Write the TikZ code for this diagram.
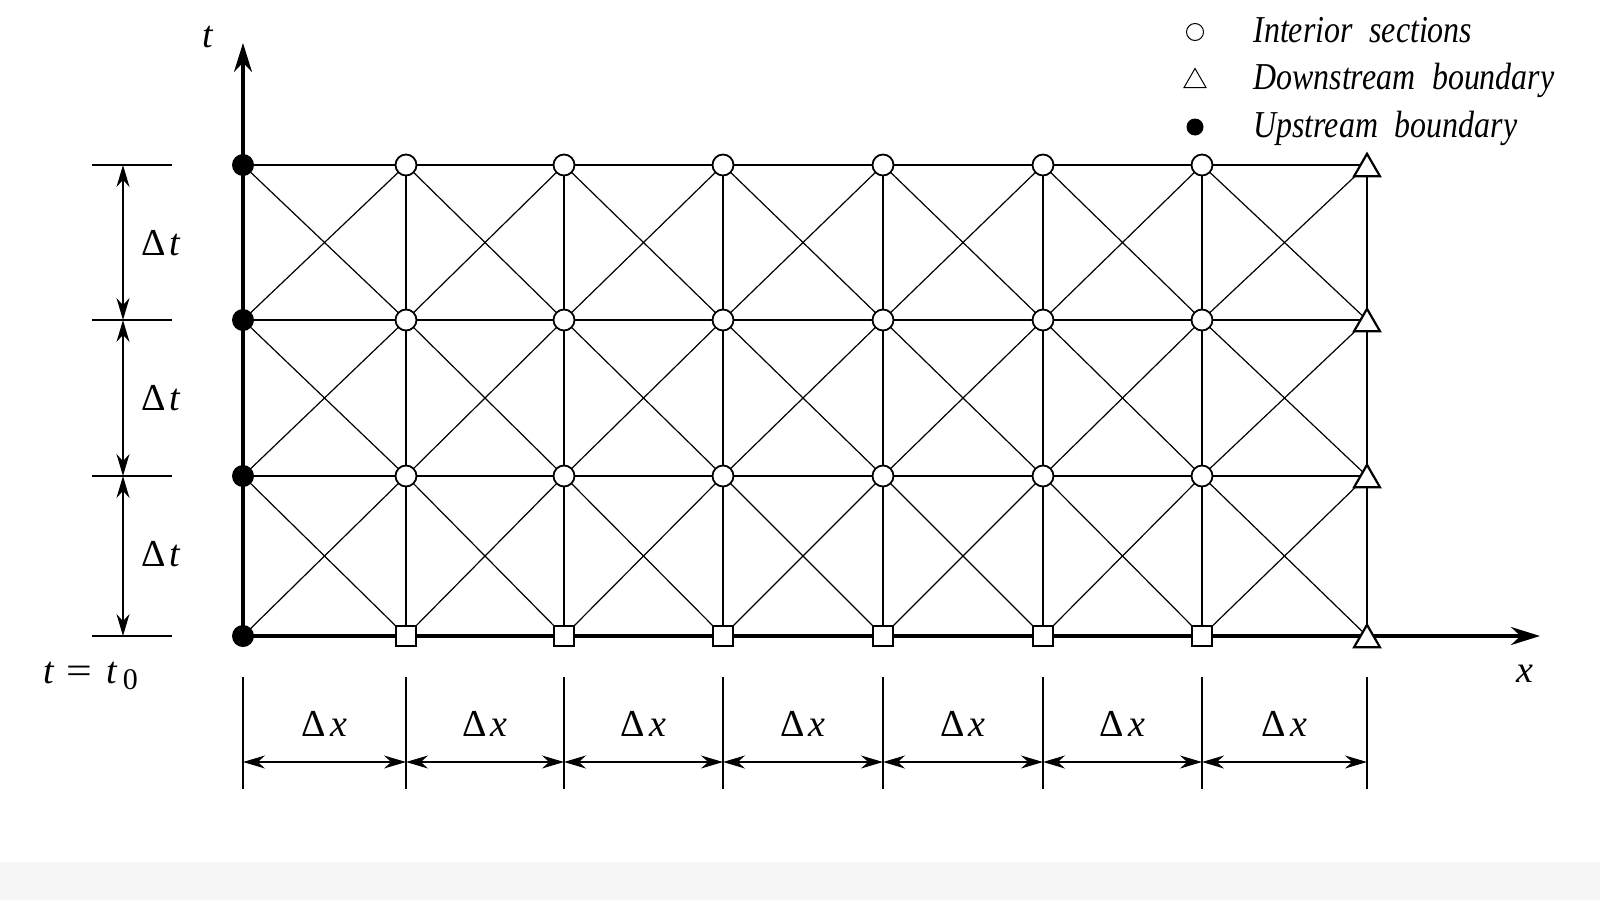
\documentclass[tikz,border=0pt]{standalone}
\usepackage{fontspec}
\usepackage{graphicx}
\setmainfont{Liberation Serif}
\newfontfamily\legfont[FakeStretch=0.84,WordSpace=2.1]{Liberation Serif}
\usetikzlibrary{arrows.meta,shapes.geometric}
\begin{document}
\begin{tikzpicture}[x={(0.5pt,0)},y={(0,-0.5pt)},
  gridline/.style={line width=0.6pt},
  axisline/.style={line width=1.7pt},
  dimline/.style={line width=0.65pt},
  dimarrow/.style={dimline,{Stealth[length=11pt,width=6.5pt]}-{Stealth[length=11pt,width=6.5pt]}},
  axisarrow/.style={axisline,-{Stealth[length=14.5pt,width=9pt]}},
  upnode/.style={circle,fill=black,inner sep=0pt,minimum size=11pt},
  intnode/.style={circle,draw,fill=white,line width=0.9pt,inner sep=0pt,minimum size=10.5pt},
  sqnode/.style={rectangle,draw,fill=white,line width=0.9pt,inner sep=0pt,minimum size=10pt},
  trinode/.style={regular polygon,regular polygon sides=3,draw,fill=white,line width=1.1pt,inner sep=0pt,minimum size=15pt,yshift=-1.9pt},
  lab/.style={font=\fontsize{19pt}{22pt}\selectfont,inner sep=0pt},
  legtext/.style={font=\legfont\itshape\fontsize{19pt}{22pt}\selectfont,inner sep=0pt,anchor=base west},
  legcirc/.style={circle,draw,fill=white,line width=0.5pt,inner sep=0pt,minimum size=8.5pt},
  legdot/.style={circle,fill=black,inner sep=0pt,minimum size=8.5pt},
  legtri/.style={regular polygon,regular polygon sides=3,draw,fill=white,line width=0.5pt,inner sep=0pt,minimum size=12.7pt,yshift=-1.6pt}
]
\useasboundingbox (0,0) rectangle (1600,900);
\fill[black!3] (0,862) rectangle (1600,900);

% grid coordinates
\foreach \x [count=\i from 0] in {243,406,564,723,883,1043,1202,1367} {
  \foreach \y [count=\j from 0] in {636,476,320,165} {
    \coordinate (p-\i-\j) at (\x,\y);
  }
}

% horizontal lines
\foreach \j in {1,2,3} \draw[gridline] (p-0-\j) -- (p-7-\j);
% vertical lines
\foreach \i in {1,...,7} \draw[gridline] (p-\i-0) -- (p-\i-3);
% diagonals
\foreach \i [evaluate=\i as \ii using int(\i+1)] in {0,...,6} {
  \foreach \j [evaluate=\j as \jj using int(\j+1)] in {0,1,2} {
    \draw[gridline] (p-\i-\j) -- (p-\ii-\jj);
    \draw[gridline] (p-\ii-\j) -- (p-\i-\jj);
  }
}

% axes
\coordinate (xend) at (1540,636);
\coordinate (tend) at (243,43);
\draw[axisarrow] (p-0-0) -- (xend);
\draw[axisarrow] (p-0-0) -- (tend);

% markers
\foreach \j in {0,...,3} \node[upnode] (u-\j) at (p-0-\j) {};
\foreach \i in {1,...,6} {
  \foreach \j in {1,2,3} \node[intnode] (c-\i-\j) at (p-\i-\j) {};
  \node[sqnode] (s-\i) at (p-\i-0) {};
}
\foreach \j in {0,...,3} \node[trinode] (d-\j) at (p-7-\j) {};

% Delta t dimensions
\foreach \y [count=\j from 0] in {636,476,320,165} {
  \coordinate (ta-\j) at (92,\y);
  \coordinate (tb-\j) at (172,\y);
  \coordinate (tm-\j) at (123,\y);
  \draw[dimline] (ta-\j) -- (tb-\j);
}
\foreach \j [evaluate=\j as \jj using int(\j+1)] in {0,1,2} \draw[dimarrow] (tm-\j) -- (tm-\jj);
\node[lab,anchor=base] (dt3) at (161,255) {Δ\hspace{2pt}\textit{t}};
\node[lab,anchor=base] (dt2) at (161,410) {Δ\hspace{2pt}\textit{t}};
\node[lab,anchor=base] (dt1) at (161,566) {Δ\hspace{2pt}\textit{t}};

% Delta x dimensions
\foreach \x [count=\i from 0] in {243,406,564,723,883,1043,1202,1367} {
  \coordinate (xa-\i) at (\x,677);
  \coordinate (xb-\i) at (\x,789);
  \coordinate (xm-\i) at (\x,762);
  \draw[dimline] (xa-\i) -- (xb-\i);
}
\foreach \i [evaluate=\i as \ii using int(\i+1)] in {0,...,6} {
  \draw[dimarrow] (xm-\i) -- (xm-\ii);
  \path (xm-\i) -- (xm-\ii) coordinate[pos=0.5] (xc-\i);
  \node[lab,anchor=base] (dx-\i) at ([yshift=13pt]xc-\i) {Δ\hspace{2pt}\textit{x}};
}

% axis labels
\node[lab,anchor=base] (tlab) at (208,47) {\textit{t}};
\node[lab,anchor=base] (xlab) at (1525,682) {\textit{x}};
\node[lab,anchor=base west] (t0lab) at (43,683) {\textit{t}\hspace{6pt}\scalebox{1.2}[1]{=}\hspace{7pt}\textit{t}\hspace{2.5pt}\raisebox{-0.35ex}{\fontsize{15pt}{15pt}\selectfont 0}};

% legend
\node[legcirc] (lc) at (1195,32) {};
\node[legtri] (lt) at (1195,78) {};
\node[legdot] (ld) at (1195,127) {};
\node[legtext] (l1) at (1253,42) {Interior sections};
\node[legtext] (l2) at (1253,89) {Downstream boundary};
\node[legtext] (l3) at (1253,137) {Upstream boundary};
\end{tikzpicture}
\end{document}
